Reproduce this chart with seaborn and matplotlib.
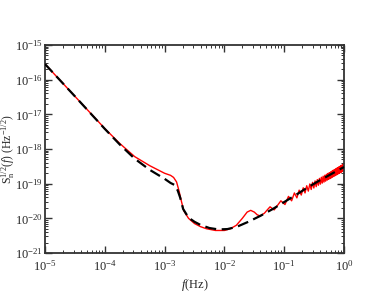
import numpy as np
import pandas as pd
import matplotlib
matplotlib.use("Agg")
import matplotlib.pyplot as plt
import seaborn as sns
from matplotlib.ticker import LogLocator, NullFormatter

# ---- data (frequency in Hz, amplitude spectral density) ----
analytic_logf = [-5.0, -4.5, -4.0, -3.75, -3.5, -3.25, -3.0, -2.9, -2.83, -2.78, -2.74,
                 -2.69, -2.6, -2.5, -2.4, -2.25, -2.1, -1.95, -1.8, -1.6, -1.4, -1.2,
                 -1.0, -0.8, -0.6, -0.4, -0.2, 0.0]
analytic_logS = [-15.55, -16.48, -17.42, -17.87, -18.28, -18.6, -18.86, -18.98, -19.04, -19.2,
                 -19.4, -19.73, -19.98, -20.1, -20.19, -20.28, -20.32, -20.31, -20.25, -20.1,
                 -19.93, -19.74, -19.53, -19.32, -19.1, -18.9, -18.71, -18.52]

numeric_logf = [-5.0, -4.5, -4.0, -3.75, -3.5, -3.25, -3.0, -2.9, -2.85, -2.8, -2.76, -2.72,
                -2.68, -2.6, -2.5, -2.4, -2.3, -2.15, -2.0, -1.9, -1.8, -1.7, -1.62, -1.56,
                -1.5, -1.45, -1.4, -1.33, -1.28]
numeric_logS = [-15.55, -16.48, -17.41, -17.84, -18.22, -18.48, -18.7, -18.76, -18.82, -18.95,
                -19.2, -19.5, -19.78, -20.0, -20.15, -20.24, -20.3, -20.35, -20.35, -20.3,
                -20.2, -20.0, -19.82, -19.77, -19.82, -19.9, -19.93, -19.85, -19.75]

# high-frequency oscillations of the numerical curve: peaks and troughs
peak_f = [0.058, 0.088, 0.118, 0.148, 0.178, 0.208, 0.238, 0.268, 0.298, 0.328, 0.358,
          0.388, 0.418, 0.448, 0.478, 0.508, 0.538, 0.568, 0.598, 0.628, 0.658, 0.688,
          0.718, 0.748, 0.778, 0.808, 0.838, 0.868, 0.898, 0.928, 0.958, 0.988]
peak_S = [2.15e-20, 3.2e-20, 4.3e-20, 5.4e-20, 6.5e-20, 7.6e-20, 8.7e-20, 9.8e-20, 1.09e-19,
          1.2e-19, 1.31e-19, 1.42e-19, 1.53e-19, 1.64e-19, 1.75e-19, 1.86e-19, 1.97e-19,
          2.08e-19, 2.19e-19, 2.3e-19, 2.42e-19, 2.53e-19, 2.64e-19, 2.76e-19, 2.87e-19,
          2.98e-19, 3.1e-19, 3.21e-19, 3.33e-19, 3.44e-19, 3.55e-19, 3.67e-19]
trough_f = [0.068, 0.103, 0.133, 0.163, 0.193, 0.223, 0.253, 0.283, 0.313, 0.343, 0.373,
            0.403, 0.433, 0.463, 0.493, 0.523, 0.553, 0.583, 0.613, 0.643, 0.673, 0.703,
            0.733, 0.763, 0.793, 0.823, 0.853, 0.883, 0.913, 0.943, 0.973]
trough_S = [1.75e-20, 2.5e-20, 3.2e-20, 3.9e-20, 4.7e-20, 5.4e-20, 6.1e-20, 6.8e-20, 7.5e-20,
            8.2e-20, 9.0e-20, 9.7e-20, 1.04e-19, 1.11e-19, 1.18e-19, 1.26e-19, 1.33e-19,
            1.4e-19, 1.47e-19, 1.54e-19, 1.62e-19, 1.69e-19, 1.76e-19, 1.83e-19, 1.9e-19,
            1.98e-19, 2.05e-19, 2.12e-19, 2.19e-19, 2.26e-19, 2.34e-19]

# ---- assemble tables ----
ana = pd.DataFrame({"f": 10.0 ** np.array(analytic_logf), "S": 10.0 ** np.array(analytic_logS)})
osc = pd.DataFrame({"f": peak_f + trough_f, "S": peak_S + trough_S}).sort_values("f")
num = pd.concat([pd.DataFrame({"f": 10.0 ** np.array(numeric_logf),
                               "S": 10.0 ** np.array(numeric_logS)}), osc],
                ignore_index=True).sort_values("f").reset_index(drop=True)

sns.set_style("ticks")
plt.rcParams["font.family"] = ["Liberation Serif", "DejaVu Serif"]
plt.rcParams["mathtext.fontset"] = "custom"
plt.rcParams["mathtext.rm"] = "Liberation Serif"
plt.rcParams["mathtext.it"] = "Liberation Serif:italic"
plt.rcParams["mathtext.bf"] = "Liberation Serif:bold"

fig = plt.figure(figsize=(3.87, 2.99), dpi=100)
ax = fig.add_axes([45 / 387, 1 - 253 / 299, 299 / 387, 208 / 299])

sns.lineplot(data=num, x="f", y="S", sort=False, estimator=None, ax=ax,
             color="#ff0000", linewidth=1.0, zorder=2)
sns.lineplot(data=ana, x="f", y="S", sort=False, estimator=None, ax=ax,
             color="black", linewidth=1.6, zorder=3)
ax.lines[-1].set_dashes([5, 2.5])

ax.set_xscale("log")
ax.set_yscale("log")
ax.set_xlim(1e-5, 1)
ax.set_ylim(1e-21, 1e-15)

ax.xaxis.set_major_locator(LogLocator(base=10, numticks=10))
ax.yaxis.set_major_locator(LogLocator(base=10, numticks=10))
ax.xaxis.set_minor_locator(LogLocator(base=10, subs=np.arange(2, 10), numticks=20))
ax.yaxis.set_minor_locator(LogLocator(base=10, subs=np.arange(2, 10), numticks=20))
ax.xaxis.set_minor_formatter(NullFormatter())
ax.yaxis.set_minor_formatter(NullFormatter())

for s in ax.spines.values():
    s.set_visible(True)
    s.set_linewidth(1.3)
    s.set_color("#333333")
ax.tick_params(which="both", direction="in", top=True, right=True, color="#333333",
               labelsize=9, pad=1.5)
ax.tick_params(axis="x", which="major", pad=4)
ax.tick_params(which="major", length=5, width=1.0)
ax.tick_params(which="minor", length=2.5, width=0.7)

ax.set_xlabel(r"$f$(Hz)", fontsize=9, labelpad=3)
ax.set_ylabel(r"$\mathrm{S}_{\mathrm{n}}^{1/2}(f)\ (\mathrm{Hz}^{-1/2})$", fontsize=8.5)
ax.yaxis.set_label_coords(-0.095, 0.5)
ax.grid(False)

fig.savefig("out.png", dpi=100)
